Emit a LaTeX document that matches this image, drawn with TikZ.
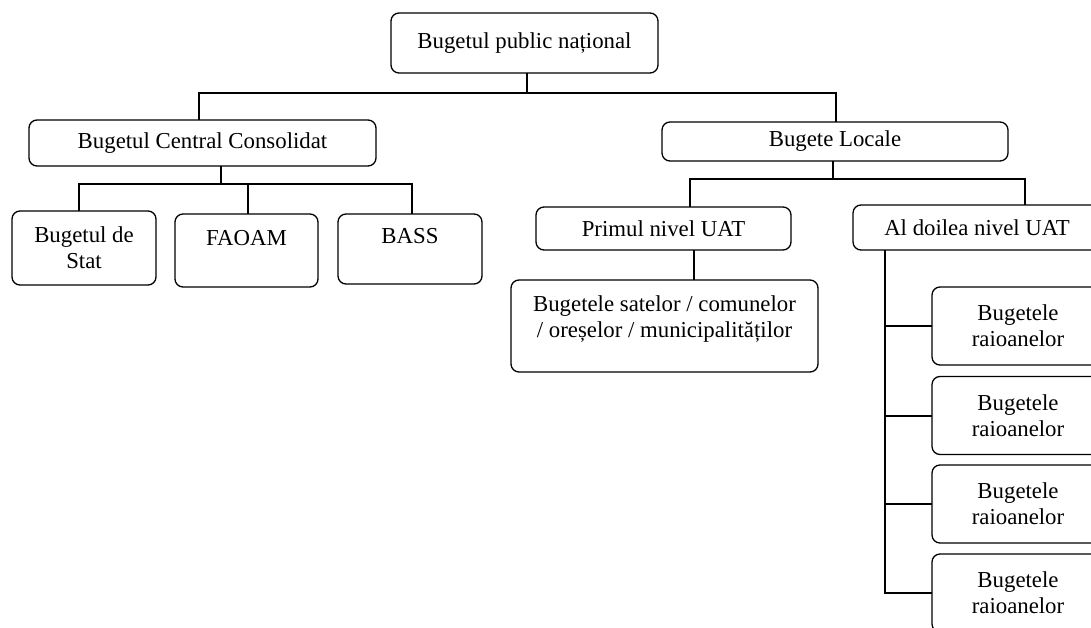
\documentclass[tikz,border=0pt]{standalone}
\usepackage{fontspec}
\setmainfont{Liberation Serif}
\begin{document}
\begin{tikzpicture}[x=1pt,y=-1pt,
  box/.style={draw=black, line width=1.3pt, rounded corners=8pt, align=center,
    inner sep=2pt, font=\fontsize{22.8}{26}\selectfont, text=black},
  conn/.style={line width=2pt, line cap=rect}]
\useasboundingbox (0,0) rectangle (1091,628);
\clip (0,0) rectangle (1091,628);
% nodes
\node[box, minimum width=267pt, minimum height=60pt] (top) at (524.5,43) {Bugetul public național};
\node[box, minimum width=347pt, minimum height=46pt] (bcc) at (202.5,143) {Bugetul Central Consolidat};
\node[box, minimum width=144pt, minimum height=74pt] (stat) at (84,248) {Bugetul de\\Stat};
\node[box, minimum width=143pt, minimum height=73pt] (faoam) at (246.5,250.5) {FAOAM\\\mbox{}};
\node[box, minimum width=144pt, minimum height=70pt] (bass) at (410,249) {BASS\\\mbox{}};
\node[box, minimum width=346pt, minimum height=39pt] (loc) at (835,141.5) {Bugete Locale};
\node[box, minimum width=255pt, minimum height=43pt] (prim) at (663.5,228.5) {Primul nivel UAT};
\node[box, minimum width=307pt, minimum height=92pt] (sat) at (664.5,326) {Bugetele satelor / comunelor\\/ oreșelor / municipalităților\\[-8pt]\mbox{}};
\node[box, minimum width=248pt, minimum height=45pt] (al2) at (977,227.5) {Al doilea nivel UAT};
\foreach \i/\y in {1/326,2/415.5,3/504,4/593}
  \node[box, minimum width=172pt, minimum height=78pt] (r\i) at (1018,\y) {Bugetele\\raioanelor};
% joints
\coordinate (j0) at (527,93);
\coordinate (jl) at (199,93);
\coordinate (jr) at (836,93);
\coordinate (k0) at (221,184);
\coordinate (k1) at (79,184);
\coordinate (k2) at (248,184);
\coordinate (k3) at (412,184);
\coordinate (m0) at (833,179);
\coordinate (m1) at (690,179);
\coordinate (m2) at (1025,179);
\coordinate (p0) at (694,0);
\coordinate (v) at (885,0);
% connectors
\draw[conn] (top.south -| j0) -- (j0);
\draw[conn] (bcc.north -| jl) -- (jl) -- (jr) -- (loc.north -| jr);
\draw[conn] (bcc.south -| k0) -- (k0);
\draw[conn] (stat.north -| k1) -- (k1) -- (k3) -- (bass.north -| k3);
\draw[conn] (k2) -- (faoam.north -| k2);
\draw[conn] (loc.south -| m0) -- (m0);
\draw[conn] (prim.north -| m1) -- (m1) -- (m2) -- (al2.north -| m2);
\draw[conn] (prim.south -| p0) -- (sat.north -| p0);
\draw[conn] (al2.south -| v) -- (r4.west -| v) -- (r4.west);
\foreach \i in {1,2,3} \draw[conn] (r\i.west -| v) -- (r\i.west);
\end{tikzpicture}
\end{document}
